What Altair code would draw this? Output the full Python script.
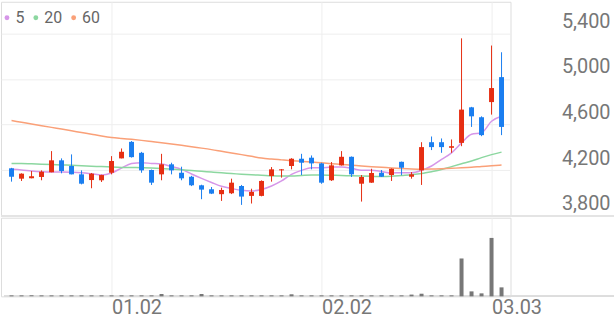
import altair as alt
import pandas as pd

# ---- data ----
idx = list(range(50))
opens = [4216, 4125, 4128, 4140, 4181, 4286, 4236, 4163, 4113, 4111,
         4177, 4303, 4448, 4352, 4201, 4163, 4251, 4177, 4142, 4067,
         4032, 3989, 3997, 4061, 3974, 3974, 4148, 4198, 4236, 4300,
         4309, 4259, 4111, 4242, 4317, 4081, 4090, 4177, 4157, 4273,
         4142, 4198, 4445, 4445, 4396, 4439, 4751, 4664, 4797, 5016]
highs = [4220, 4172, 4192, 4198, 4367, 4303, 4338, 4198, 4175, 4160,
         4323, 4390, 4455, 4360, 4205, 4343, 4265, 4230, 4150, 4072,
         4052, 4046, 4125, 4070, 4037, 4110, 4227, 4210, 4305, 4343,
         4329, 4265, 4271, 4367, 4320, 4157, 4212, 4201, 4215, 4275,
         4183, 4445, 4495, 4478, 4469, 5356, 4755, 4672, 5293, 5234]
lows = [4099, 4105, 4128, 4111, 4181, 4172, 4163, 4075, 4041, 4096,
        4163, 4303, 4310, 4177, 4070, 4111, 4163, 4111, 4060, 3945,
        3990, 3930, 3990, 3895, 3907, 3970, 4099, 4134, 4207, 4157,
        4207, 4080, 4105, 4240, 4140, 3924, 4088, 4140, 4105, 4155,
        4125, 4070, 4376, 4352, 4352, 4410, 4579, 4498, 4687, 4507]
closes = [4142, 4169, 4146, 4186, 4286, 4192, 4163, 4081, 4169, 4157,
          4280, 4361, 4314, 4198, 4090, 4251, 4198, 4128, 4067, 4029,
          3994, 4026, 4090, 3968, 4009, 4105, 4207, 4207, 4300, 4265,
          4259, 4090, 4242, 4317, 4163, 4140, 4175, 4142, 4212, 4221,
          4163, 4402, 4402, 4402, 4410, 4731, 4672, 4507, 4920, 4579]
ma5 = [4207, 4201, 4192, 4186, 4183, 4183, 4181, 4177, 4168, 4157,
       4175, 4218, 4258, 4265, 4259, 4253, 4231, 4207, 4166, 4128,
       4092, 4058, 4039, 4023, 4017, 4030, 4061, 4105, 4163, 4198,
       4221, 4221, 4227, 4227, 4216, 4198, 4198, 4188, 4175, 4177,
       4177, 4198, 4236, 4294, 4352, 4439, 4515, 4528, 4629, 4672]
ma20 = [4259, 4258, 4255, 4252, 4249, 4246, 4242, 4238, 4234, 4231,
        4227, 4224, 4223, 4221, 4218, 4214, 4210, 4203, 4197, 4190,
        4183, 4176, 4170, 4164, 4159, 4155, 4150, 4148, 4148, 4153,
        4157, 4157, 4155, 4153, 4150, 4148, 4146, 4144, 4146, 4153,
        4160, 4170, 4186, 4205, 4231, 4256, 4280, 4310, 4336, 4358]
ma60 = [4635, 4620, 4605, 4590, 4575, 4560, 4545, 4530, 4515, 4500,
        4487, 4478, 4470, 4461, 4451, 4441, 4430, 4418, 4405, 4393,
        4380, 4365, 4350, 4336, 4321, 4306, 4297, 4290, 4283, 4277,
        4271, 4264, 4257, 4250, 4243, 4236, 4230, 4225, 4219, 4214,
        4210, 4208, 4209, 4212, 4216, 4220, 4225, 4232, 4238, 4245]
volumes = [17, 17, 17, 17, 17, 17, 17, 17, 17, 17,
           17, 17, 17, 17, 17, 40, 17, 17, 17, 40,
           17, 17, 17, 17, 17, 17, 17, 17, 35, 17,
           17, 17, 17, 17, 17, 17, 17, 17, 17, 17,
           30, 45, 17, 17, 17, 650, 85, 51, 1003, 154]
ma_names = ["5", "20", "60"]
ma_colors = ["#d696e8", "#8cd7a0", "#faa078"]
tick_pos = [10, 31, 48]
tick_labels = ["01.02", "02.02", "03.03"]
price_ticks = [3800, 4200, 4600, 5000, 5400]

UP = "#e62e12"
DOWN = "#1a7ef0"
GRID = "#eeeeee"
LABEL = "#777777"

df = pd.DataFrame({"i": idx, "open": opens, "high": highs, "low": lows,
                   "close": closes, "vol": volumes})
ma_df = pd.concat([
    pd.DataFrame({"i": idx, "value": ma5, "ma": "5"}),
    pd.DataFrame({"i": idx, "value": ma20, "ma": "20"}),
    pd.DataFrame({"i": idx, "value": ma60, "ma": "60"}),
])

x_scale = alt.Scale(domain=[-0.556, 49.4], nice=False, zero=False)
label_expr = " : ".join(
    [f"datum.value == {p} ? '{l}'" for p, l in zip(tick_pos, tick_labels)]) + " : ''"

x_price = alt.X("i:Q", scale=x_scale, title=None,
                axis=alt.Axis(values=tick_pos, labels=False, ticks=False, tickSize=0,
                              domain=False, grid=True, gridColor=GRID, title=None))
y_scale = alt.Scale(domain=[3800, 5677], nice=False, zero=False)
y_axis = alt.Axis(orient="right", values=price_ticks, labelExpr="format(datum.value, ',')",
                  labelAlign="right",
                  labelPadding=100, labelBaseline="alphabetic", labelOffset=-6,
                  labelFontSize=20, labelFont="Roboto", labelColor=LABEL,
                  ticks=False, tickSize=0, domain=False, grid=True, gridColor=GRID,
                  title=None)

color_cond = alt.condition("datum.close >= datum.open", alt.value(UP), alt.value(DOWN))

line_layers = [
    alt.Chart(ma_df).transform_filter(alt.datum.ma == n)
    .mark_line(strokeWidth=1.5, interpolate="monotone", color=c)
    .encode(x=x_price, y=alt.Y("value:Q", scale=y_scale, axis=y_axis))
    for n, c in zip(ma_names, ma_colors)
]

# manual legend (dot + label per moving average), laid out left to right
legend_layers = []
lx = 6.0
DIGIT_W = 9.0
for n, c in zip(ma_names, ma_colors):
    legend_layers.append(
        alt.Chart(df).transform_filter("datum.i == 0").mark_circle(size=24, color=c, opacity=1)
        .encode(x=alt.value(lx), y=alt.value(16))
    )
    legend_layers.append(
        alt.Chart(df).transform_filter("datum.i == 0")
        .mark_text(text=n, align="left", baseline="alphabetic", fontSize=16,
                   font="Roboto", color="#666666")
        .encode(x=alt.value(lx + 8.5), y=alt.value(21.5))
    )
    lx += 8.5 + DIGIT_W * len(n) + 11.5

wicks = alt.Chart(df).mark_rule(strokeWidth=1).encode(
    x=x_price,
    y=alt.Y("low:Q", scale=y_scale, axis=y_axis),
    y2="high:Q",
    color=color_cond,
)
bodies = alt.Chart(df).mark_bar(size=5).encode(
    x=x_price,
    y=alt.Y("open:Q", scale=y_scale, axis=y_axis),
    y2="close:Q",
    color=color_cond,
)
sep = alt.Chart(df).mark_rule(color="#e4e4e4", strokeWidth=1).encode(
    x=alt.value(0), x2=alt.value(616), y=alt.value(215)
)

price = alt.layer(*line_layers, wicks, bodies, sep, *legend_layers).properties(width=512, height=215)

x_vol = alt.X("i:Q", scale=x_scale, title=None,
              axis=alt.Axis(values=tick_pos, labelExpr=label_expr, labelAlign="left",
                            labelFlush=False, labelBaseline="alphabetic", labelPadding=17,
                            labelFontSize=20, labelFont="Roboto", labelColor=LABEL,
                            ticks=False, tickSize=0, domain=False, grid=True,
                            gridColor=GRID, title=None))
vol_bars = alt.Chart(df).mark_bar(size=4, color="#777777").encode(
    x=x_vol,
    y=alt.Y("vol:Q", scale=alt.Scale(domain=[0, 1350], nice=False), axis=None),
)
base = alt.Chart(df).mark_rule(color="#dddddd", strokeWidth=1.5).encode(
    x=alt.value(3), x2=alt.value(616), y=alt.value(79)
)
volume = alt.layer(base, vol_bars).properties(width=512, height=79)

chart = alt.vconcat(price, volume, spacing=0).properties(padding=0).configure_view(
    strokeWidth=0
).configure(font="Roboto")

chart.save("out.html", embed_options={"renderer": "svg", "actions": False})
